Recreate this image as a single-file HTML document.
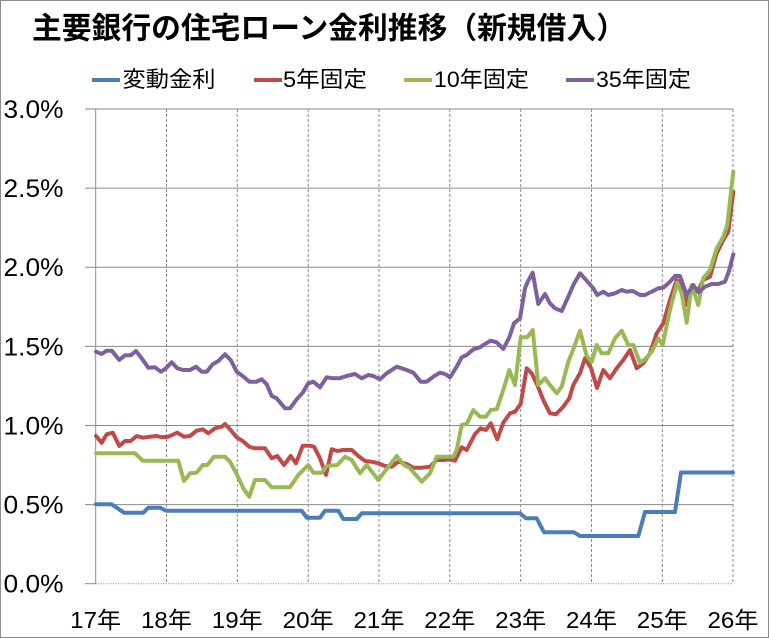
<!DOCTYPE html>
<html><head><meta charset="utf-8">
<style>
html,body{margin:0;padding:0;background:#fff;}
svg{display:block;}
text{font-family:"Liberation Sans","Noto Sans CJK JP",sans-serif;fill:#000;}
</style></head>
<body>
<svg width="769" height="638" viewBox="0 0 769 638" xmlns="http://www.w3.org/2000/svg">
<rect x="0.5" y="0.5" width="768" height="637" fill="#fff" stroke="#8c8c8c" stroke-width="1"/>
<text x="32" y="38.5" font-size="30" font-weight="bold" textLength="594" lengthAdjust="spacingAndGlyphs">主要銀行の住宅ローン金利推移（新規借入）</text>
<!-- legend -->
<line x1="92" y1="80" x2="120" y2="80" stroke="#4A7EBB" stroke-width="4"/>
<text x="122.5" y="87" font-size="22" textLength="93" lengthAdjust="spacingAndGlyphs">変動金利</text>
<line x1="254" y1="80" x2="282" y2="80" stroke="#BE4B48" stroke-width="4"/>
<text x="283" y="87" font-size="22" textLength="84" lengthAdjust="spacingAndGlyphs">5年固定</text>
<line x1="404" y1="80" x2="432" y2="80" stroke="#98B954" stroke-width="4"/>
<text x="434" y="87" font-size="22" textLength="95" lengthAdjust="spacingAndGlyphs">10年固定</text>
<line x1="566" y1="80" x2="594" y2="80" stroke="#7D60A0" stroke-width="4"/>
<text x="596" y="87" font-size="22" textLength="95" lengthAdjust="spacingAndGlyphs">35年固定</text>
<!-- grid -->
<g stroke="#8a8a8a" stroke-width="1" fill="none">
<line x1="85" y1="109" x2="733" y2="109"/>
<line x1="85" y1="188.1" x2="733" y2="188.1"/>
<line x1="85" y1="267.2" x2="733" y2="267.2"/>
<line x1="85" y1="346.4" x2="733" y2="346.4"/>
<line x1="85" y1="425.5" x2="733" y2="425.5"/>
<line x1="85" y1="504.6" x2="733" y2="504.6"/>
<line x1="85" y1="583.7" x2="95.7" y2="583.7"/>
<line x1="95.7" y1="109" x2="95.7" y2="583.7"/>
</g>
<g stroke="#8a8a8a" stroke-width="1" fill="none" stroke-dasharray="3,2">
<line x1="166.5" y1="109" x2="166.5" y2="583.7"/>
<line x1="237.3" y1="109" x2="237.3" y2="583.7"/>
<line x1="308.2" y1="109" x2="308.2" y2="583.7"/>
<line x1="379" y1="109" x2="379" y2="583.7"/>
<line x1="449.8" y1="109" x2="449.8" y2="583.7"/>
<line x1="520.7" y1="109" x2="520.7" y2="583.7"/>
<line x1="591.5" y1="109" x2="591.5" y2="583.7"/>
<line x1="662.3" y1="109" x2="662.3" y2="583.7"/>
<line x1="733" y1="109" x2="733" y2="583.7"/>
</g>
<line x1="95.7" y1="583.7" x2="733" y2="583.7" stroke="#8a8a8a" stroke-width="1" stroke-dasharray="1,1.5"/>
<!-- y labels -->
<g font-size="25">
<text x="3.5" y="118" textLength="60" lengthAdjust="spacingAndGlyphs">3.0%</text>
<text x="3.5" y="197.1" textLength="60" lengthAdjust="spacingAndGlyphs">2.5%</text>
<text x="3.5" y="276.2" textLength="60" lengthAdjust="spacingAndGlyphs">2.0%</text>
<text x="3.5" y="355.4" textLength="60" lengthAdjust="spacingAndGlyphs">1.5%</text>
<text x="3.5" y="434.5" textLength="60" lengthAdjust="spacingAndGlyphs">1.0%</text>
<text x="3.5" y="513.6" textLength="60" lengthAdjust="spacingAndGlyphs">0.5%</text>
<text x="3.5" y="592.7" textLength="60" lengthAdjust="spacingAndGlyphs">0.0%</text>
</g>
<!-- x labels -->
<g font-size="23">
<text x="70.2" y="628" textLength="51" lengthAdjust="spacingAndGlyphs">17年</text>
<text x="141" y="628" textLength="51" lengthAdjust="spacingAndGlyphs">18年</text>
<text x="211.8" y="628" textLength="51" lengthAdjust="spacingAndGlyphs">19年</text>
<text x="282.7" y="628" textLength="51" lengthAdjust="spacingAndGlyphs">20年</text>
<text x="353.5" y="628" textLength="51" lengthAdjust="spacingAndGlyphs">21年</text>
<text x="424.3" y="628" textLength="51" lengthAdjust="spacingAndGlyphs">22年</text>
<text x="495.2" y="628" textLength="51" lengthAdjust="spacingAndGlyphs">23年</text>
<text x="566" y="628" textLength="51" lengthAdjust="spacingAndGlyphs">24年</text>
<text x="636.8" y="628" textLength="51" lengthAdjust="spacingAndGlyphs">25年</text>
<text x="707.5" y="628" textLength="51" lengthAdjust="spacingAndGlyphs">26年</text>
</g>
<!-- series -->
<g fill="none" stroke-width="4" stroke-linejoin="round" stroke-linecap="round">
<polyline stroke="#4A7EBB" points="95.7,504.3 111.7,504.3 124,512.7 143.3,512.7 148.3,507.7 160,507.7 166,510.7 301.7,510.7 306.7,517.7 320,517.7 325,510.7 338.3,510.7 343.3,519 356.7,519 361.7,513.3 520,513.3 526,518.3 536.7,518.3 544,532.3 574,532.3 580,536 638.3,536 645,512 675,512 681,472.5 733,472.5"/>
<polyline stroke="#BE4B48" points="96,436 101.7,442.7 106.7,434.3 112.7,432.7 119.3,446 125,441 130.7,441 136.7,436 143.3,437.7 150,436.7 156.7,436 161.7,437.3 168.3,436.7 177.3,432.7 184,436.7 190,436 196.7,430.7 202.7,429.3 208.3,433.3 215,428.3 221.7,426.7 225,424 230,429.3 236.7,437.3 242.7,441 249.3,446.7 255,448.3 265,448.3 271.7,458.3 277.3,456 284,465 290.7,456 296,463.3 302.7,445.7 309.3,445.7 314,446.7 320,458.3 326,475 331.7,449.3 337.3,451 343.3,450 351.7,450 358.3,456 365,461 371.7,461.7 378.3,463.3 385,466 391.7,466.7 398.3,461.7 406.7,464 413.3,467.7 421.7,467.7 430,466.7 436.7,460 443.3,460 450,459.3 455,460.7 461.7,447.3 466.7,450 475,434 480.7,428.3 486,430 490.7,423.3 497.3,439.3 503.3,422.7 510,413.3 515,411.7 520.7,404 526.7,368.3 531.7,373.3 537.3,385 544,401.7 550,413.3 556,414.3 563.3,406.7 569.3,398.3 573.3,385 580,373.3 585,358.3 591,368 597,388 603.3,370 610,378.3 616.7,368.3 623.3,360 630,350 636.7,368.3 643.3,363.3 650,353.3 656.7,333.3 663.3,323.3 670,300 676.7,280 681.7,285 686.7,305 691.7,288.3 698.3,290 703.3,280 710,276.7 716.7,253.3 723.3,240 728.3,231.7 733.3,191.7"/>
<polyline stroke="#98B954" points="96,453.3 135,453.3 142.7,460.7 178.3,460.7 184,481 190,473.3 196.7,472.7 202.7,465 207.3,465 214,456.7 225,456.7 230,461.7 236.7,474 243.3,488.3 249.3,496.7 255,480 265,480 271.7,487.3 290,487.3 298.3,475 308.3,465 313.3,472.7 321.7,472.7 326.7,466 337.3,465 345,456.7 351.7,460 360,473.3 366.7,465 378.3,480 396.7,456 404,465 410,468.3 421.7,481.7 430,473.3 436.7,456.7 453.3,456.7 456.7,450 461.7,425 466.7,424 473.3,410 480,416.7 486,416.7 490.7,410 496.7,409.3 503.3,390 509.3,370 515,385 520.7,337.3 527.3,337.3 532.7,330 538.3,385 545,378.3 550,385 556.7,393.3 561.7,386.7 568.3,361.7 573.3,349.3 580,330.7 586.7,356 591.7,361.7 596.7,345 601.7,353.3 608.3,353.3 615,338.3 621.7,330.7 628.3,345 633.3,345 640,362.7 645,359.3 651.7,351.7 658.3,338.3 662.7,345 670,310 677.3,282.7 681.7,293.3 686.7,322.7 691.7,285 698.3,305 703.3,278.3 710,270 716.7,248.3 723.3,236.7 727.3,225 733.3,171.7"/>
<polyline stroke="#7D60A0" points="96,351.7 101.7,354 106.7,350.7 111.7,350.7 119.3,360 125,355.3 130.7,355.3 136,351 141.7,358.3 148.3,367.7 155,367.3 160.7,371.7 166,368.3 171.7,362.3 177.3,368.3 183.3,370 190,370 196,366.7 201.7,371.7 206.7,371.7 212.7,364.3 218.3,361 225,354.3 230.7,360 236.7,371.7 242.7,376 249.3,381.7 256.7,381.7 261.7,379.3 266.7,384.3 271.7,396 276.7,398.3 281.7,404.3 285,408.3 290,408.3 296.7,399.3 302.7,392.7 308.3,383.3 313.3,381.7 320,387.3 326.7,377.3 333.3,378.3 339.3,378.3 346.7,376 355,374 361.7,378.3 368.3,375 373.3,376 380,379.3 386.7,373.3 396.7,366.7 406.7,370 413.3,372.7 420.7,381.7 426.7,381.7 433.3,376.7 440,372.7 445,374 450,377.3 456.7,366.7 461.7,357.3 466.7,355 473.3,349.3 480,347.3 485,344 490.7,340.7 496.7,342.3 503.3,349 509.3,337.3 514,323.3 520,318.3 525,288.3 527.7,281.7 532.7,272.7 538.3,304 545,294 550,303.3 555,308.3 561.7,311 568.3,296.7 573.3,285 580,273.3 586.7,280.7 593.3,288.3 597.3,295 603.3,291.7 608.3,295 615,293.3 621.7,290 626.7,291.7 632.7,291 640,295 645,295 651.7,291.7 658.3,288.3 663.3,287.7 670,281.7 675,276 680,276 686.7,295 693.3,285 698.3,292.3 705,286.7 711.7,284 718.3,284 725,281.7 729.3,270 733.3,254.3"/>
</g>
</svg>
</body></html>
